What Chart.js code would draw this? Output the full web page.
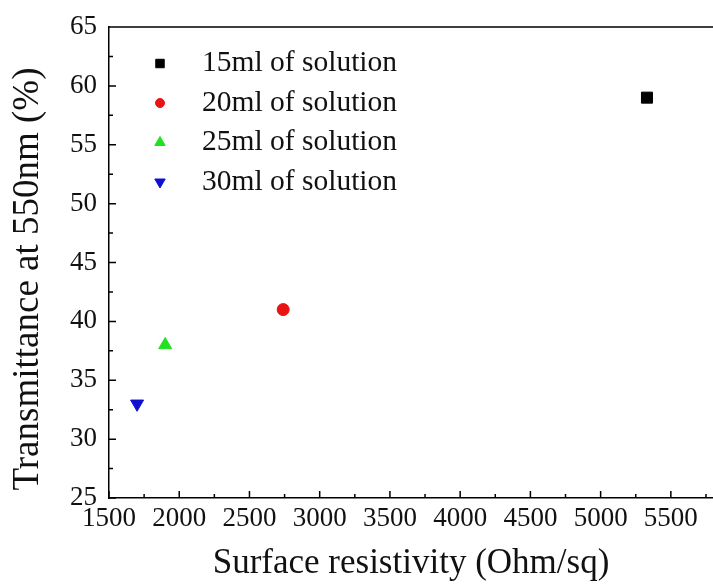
<!DOCTYPE html>
<html lang="en">
<head>
    <meta charset="UTF-8">
    <title>Transmittance vs Surface Resistivity</title>
    <script src="https://cdn.jsdelivr.net/npm/chart.js"></script>
    <style>
        html, body {
            margin: 0;
            padding: 0;
            overflow: hidden;
            background: #fff;
        }
        .chart-container {
            width: 713px;
            height: 585px;
        }
    </style>
</head>
<body>
    <div class="chart-container">
        <canvas id="transChart"></canvas>
    </div>

    <script>
        // Data
        const seriesLabels = ['15ml of solution', '20ml of solution', '25ml of solution', '30ml of solution'];
        const resistivity = [5330, 2740, 1900, 1700];     // Ohm/sq
        const transmittance = [59, 41, 38, 33];           // % at 550nm
        const xTickValues = [1500, 2000, 2500, 3000, 3500, 4000, 4500, 5000, 5500];
        const yTickValues = [25, 30, 35, 40, 45, 50, 55, 60, 65];
        const markerStyles = ['rect', 'circle', 'triangle', 'triangle'];
        const markerRotation = [0, 0, 0, 180];
        const markerColors = ['#000000', '#e81414', '#22e022', '#1010d0'];

        const serif = "'Liberation Serif', 'Times New Roman', serif";
        const yTitle = 'Transmittance at 550nm (%)';

        const datasets = seriesLabels.map((name, i) => ({
            label: name,
            data: [{ x: resistivity[i], y: transmittance[i] }],
            pointStyle: markerStyles[i],
            rotation: markerRotation[i],
            pointRadius: markerStyles[i] === 'rect' ? 7.8 : (markerStyles[i] === 'circle' ? 6 : 7.5),
            backgroundColor: markerColors[i],
            borderColor: markerColors[i],
            borderWidth: 1,
            showLine: false
        }));

        // Inward major/minor ticks, top frame line, y title and in-plot legend
        const framePlugin = {
            id: 'frame',
            afterDatasetsDraw(chart) {
                const ctx = chart.ctx;
                const area = chart.chartArea;
                const xs = chart.scales.x;
                const ys = chart.scales.y;
                ctx.save();
                ctx.strokeStyle = '#000';
                ctx.lineWidth = 1.5;
                ctx.beginPath();
                ctx.moveTo(area.left, area.top);
                ctx.lineTo(area.right, area.top);
                // x ticks every 250, major each 500
                for (let v = xs.min; v <= xs.max; v += 250) {
                    const px = xs.getPixelForValue(v);
                    const len = (v % 500 === 0) ? 7 : 4;
                    ctx.moveTo(px, area.bottom);
                    ctx.lineTo(px, area.bottom - len);
                }
                // y ticks every 2.5, major each 5
                for (let v = ys.min; v <= ys.max; v += 2.5) {
                    const py = ys.getPixelForValue(v);
                    const len = (v % 5 === 0) ? 7 : 4;
                    ctx.moveTo(area.left, py);
                    ctx.lineTo(area.left + len, py);
                }
                ctx.stroke();

                // y axis title
                ctx.save();
                ctx.translate(28, 279);
                ctx.rotate(-Math.PI / 2);
                ctx.fillStyle = '#111';
                ctx.font = '37px ' + serif;
                ctx.textAlign = 'center';
                ctx.textBaseline = 'middle';
                ctx.fillText(yTitle, 0, 0);
                ctx.restore();

                // legend
                chart.data.datasets.forEach((ds, i) => {
                    const y = 63.5 + 39.5 * i;
                    const r = ds.pointStyle === 'rect' ? 6 : (ds.pointStyle === 'circle' ? 4.5 : 6);
                    ctx.fillStyle = ds.backgroundColor;
                    ctx.strokeStyle = ds.borderColor;
                    ctx.lineWidth = 1;
                    Chart.helpers.drawPoint(ctx, { pointStyle: ds.pointStyle, radius: r, rotation: ds.rotation, borderWidth: 1 }, 160, y);
                    ctx.fillStyle = '#111';
                    ctx.font = '29.5px ' + serif;
                    ctx.textBaseline = 'middle';
                    ctx.textAlign = 'left';
                    ctx.fillText(ds.label, 202, y);
                });
                ctx.restore();
            }
        };

        new Chart(document.getElementById('transChart').getContext('2d'), {
            type: 'scatter',
            data: { datasets: datasets },
            plugins: [framePlugin],
            options: {
                responsive: true,
                maintainAspectRatio: false,
                animation: false,
                layout: { autoPadding: false, padding: { top: 27, right: 0, left: 0, bottom: 0 } },
                plugins: {
                    legend: { display: false },
                    tooltip: { enabled: false }
                },
                scales: {
                    x: {
                        type: 'linear',
                        min: 1500,
                        max: 5800,
                        grid: { display: false, drawTicks: false },
                        border: { display: true, color: '#000', width: 1.5 },
                        afterBuildTicks(scale) {
                            scale.ticks = xTickValues.map(v => ({ value: v }));
                        },
                        ticks: {
                            autoSkip: false,
                            padding: 5,
                            color: '#111',
                            maxRotation: 0,
                            font: { family: serif, size: 27 },
                            callback: v => String(v)
                        },
                        title: {
                            display: true,
                            text: 'Surface resistivity (Ohm/sq)',
                            color: '#111',
                            font: { family: serif, size: 35 },
                            padding: { top: 7, bottom: 0 }
                        },
                        afterFit(scale) {
                            scale.height = 87;
                            scale.paddingLeft = 0;
                            scale.paddingRight = 0;
                        }
                    },
                    y: {
                        min: 25,
                        max: 65,
                        grid: { display: false, drawTicks: false },
                        border: { display: true, color: '#000', width: 1.5 },
                        afterBuildTicks(scale) {
                            scale.ticks = yTickValues.map(v => ({ value: v }));
                        },
                        ticks: {
                            autoSkip: false,
                            padding: 12,
                            color: '#111',
                            font: { family: serif, size: 27 },
                            callback: v => String(v)
                        },
                        title: { display: false },
                        afterFit(scale) {
                            scale.width = 109;
                            scale.paddingTop = 0;
                            scale.paddingBottom = 0;
                        }
                    }
                }
            }
        });
    </script>
</body>
</html>
